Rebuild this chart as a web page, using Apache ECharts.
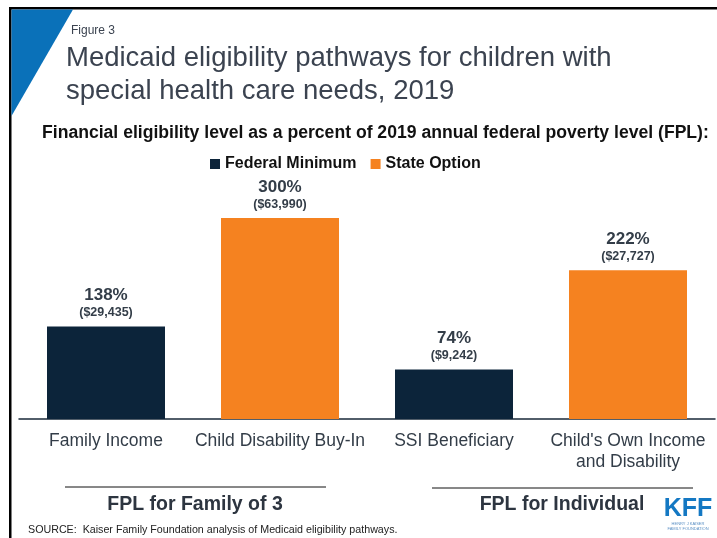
<!DOCTYPE html>
<html><head><meta charset="utf-8">
<script src="https://cdn.jsdelivr.net/npm/echarts@6/dist/echarts.min.js"></script>
<style>html,body{margin:0;padding:0;background:#fff}#c{width:717px;height:538px}</style>
</head><body><div id="c"></div>
<script>
const categories = ['Family Income', 'Child Disability Buy-In', 'SSI Beneficiary', "Child's Own Income\nand Disability"];
const federalMinimum = [138, '-', 74, '-'];
const stateOption = ['-', 300, '-', 222];
const dollarAmounts = ['$29,435', '$63,990', '$9,242', '$27,727'];

const chart = echarts.init(document.getElementById('c'));
const txt = '#333d48';
const FF = '"Liberation Sans", Arial';
const labelCfg = {
  show: true, position: 'top', distance: 6,
  formatter: p => '{a|' + p.value + '%}\n{b|(' + dollarAmounts[p.dataIndex] + ')}',
  rich: {
    a: {fontFamily: FF, fontWeight: 'bold', fontSize: 17, color: txt, lineHeight: 20},
    b: {fontFamily: FF, fontWeight: 'bold', fontSize: 12.5, color: txt, lineHeight: 15}
  }
};
chart.setOption({
  animation: false,
  title: [
    {text: 'Figure 3', left: 71, top: 25, padding: 0, textStyle: {fontFamily: FF, fontSize: 12, fontWeight: 'normal', color: '#3b4350'}},
    {text: 'Medicaid eligibility pathways for children with\nspecial health care needs, 2019', left: 66, top: 42, padding: 0,
      textStyle: {fontFamily: FF, fontSize: 27.5, fontWeight: 'normal', color: '#3b4350', lineHeight: 33}},
    {text: 'Financial eligibility level as a percent of 2019 annual federal poverty level (FPL):', left: 42, top: 124, padding: 0,
      textStyle: {fontFamily: FF, fontSize: 17.6, fontWeight: 'bold', color: '#111'}},
    {text: 'SOURCE:  Kaiser Family Foundation analysis of Medicaid eligibility pathways.', left: 28, top: 525, padding: 0,
      textStyle: {fontFamily: FF, fontSize: 10.7, fontWeight: 'normal', color: '#222'}}
  ],
  legend: {
    top: 156, left: 210, padding: 0, itemWidth: 10, itemHeight: 10, itemGap: 14,
    icon: 'rect',
    textStyle: {fontFamily: FF, fontSize: 16, fontWeight: 'bold', color: '#111'},
    data: ['Federal Minimum', 'State Option']
  },
  grid: {left: 19, right: 2, top: 151, bottom: 119},
  xAxis: {
    type: 'category', data: categories,
    axisLine: {lineStyle: {color: '#1a2a3a', width: 1.5}},
    axisTick: {show: false},
    axisLabel: {fontFamily: FF, fontSize: 17.5, color: txt, margin: 12, lineHeight: 21, interval: 0}
  },
  yAxis: {type: 'value', min: 0, max: 400, show: false, splitLine: {show: false}},
  series: [
    {name: 'Federal Minimum', type: 'bar', data: federalMinimum, barWidth: 118, barGap: '-100%',
      itemStyle: {color: '#0c243a'}, label: labelCfg},
    {name: 'State Option', type: 'bar', data: stateOption, barWidth: 118, barGap: '-100%',
      itemStyle: {color: '#f58220'}, label: labelCfg}
  ],
  graphic: [
    {type: 'rect', shape: {x: 9, y: 7, width: 710, height: 2.5}, style: {fill: '#000'}},
    {type: 'rect', shape: {x: 9, y: 7, width: 2.5, height: 540}, style: {fill: '#000'}},
    {type: 'polygon', shape: {points: [[11.5, 9.5], [73, 9.5], [11.5, 116]]}, style: {fill: '#0a71b9'}},
    {type: 'line', shape: {x1: 65, y1: 487, x2: 326, y2: 487}, style: {stroke: '#111', lineWidth: 1}},
    {type: 'line', shape: {x1: 432, y1: 488, x2: 693, y2: 488}, style: {stroke: '#111', lineWidth: 1}},
    {type: 'text', style: {text: 'FPL for Family of 3', x: 195, y: 505, align: 'center', verticalAlign: 'middle',
      font: 'bold 19.5px "Liberation Sans", Arial', fill: '#2d3540'}},
    {type: 'text', style: {text: 'FPL for Individual', x: 562, y: 505, align: 'center', verticalAlign: 'middle',
      font: 'bold 19.5px "Liberation Sans", Arial', fill: '#2d3540'}},
    {type: 'text', style: {text: 'KFF', x: 688, y: 509, align: 'center', verticalAlign: 'middle',
      font: 'bold 25px "Liberation Sans Narrow", "Liberation Sans", Arial', fill: '#1478c3'}},
    {type: 'text', style: {text: 'HENRY J KAISER\nFAMILY FOUNDATION', x: 688, y: 526, align: 'center', verticalAlign: 'middle',
      font: '4px "Liberation Sans", Arial', fill: '#5a8fc4', lineHeight: 5}}
  ]
});
</script></body></html>
